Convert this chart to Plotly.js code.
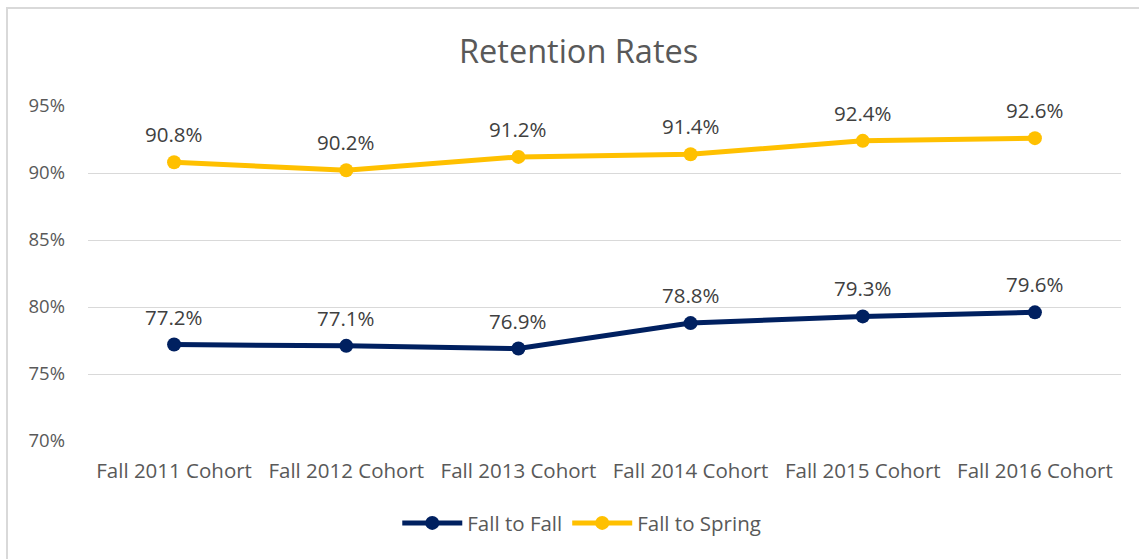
<!DOCTYPE html>
<html>
<head>
<meta charset="utf-8">
<script src="https://cdn.plot.ly/plotly-3.0.1.min.js"></script>
<style>
html,body{margin:0;padding:0;background:#fff;overflow:hidden;}
#frame{position:absolute;left:6px;top:7px;width:1200px;height:600px;border-left:2px solid #d9d9d9;border-top:2px solid #d9d9d9;box-sizing:border-box;pointer-events:none;z-index:5;}
#chart{position:absolute;left:0;top:0;width:1139px;height:559px;}
</style>
</head>
<body>
<div id="chart"></div>
<div id="frame"></div>
<script>
const categories = ["Fall 2011 Cohort","Fall 2012 Cohort","Fall 2013 Cohort","Fall 2014 Cohort","Fall 2015 Cohort","Fall 2016 Cohort"];
const fallToFall = [77.2, 77.1, 76.9, 78.8, 79.3, 79.6];
const fallToSpring = [90.8, 90.2, 91.2, 91.4, 92.4, 92.6];
const yTickVals = [70, 75, 80, 85, 90, 95];
const yTickText = ["70%","75%","80%","85%","90%","95%"];

const FONT = "Open Sans, Liberation Sans, sans-serif";
const navy = "#002060";
const gold = "#FFC000";

const traces = [
  {x: categories, y: fallToFall, name: "Fall to Fall", type: "scatter", mode: "lines+markers",
   line: {color: navy, width: 5}, marker: {color: navy, size: 14}},
  {x: categories, y: fallToSpring, name: "Fall to Spring", type: "scatter", mode: "lines+markers",
   line: {color: gold, width: 5}, marker: {color: gold, size: 14}}
];

const annotations = [];
[fallToFall, fallToSpring].forEach(series => {
  series.forEach((v, i) => {
    annotations.push({x: categories[i], y: v, text: v.toFixed(1) + "%", showarrow: false,
      yshift: 28, font: {family: FONT, size: 20.5, color: "#404040"}});
  });
});

const layout = {
  width: 1139, height: 559,
  margin: {l: 88, r: 18, t: 106, b: 118},
  paper_bgcolor: "#fff", plot_bgcolor: "#fff",
  title: {text: "Retention Rates", font: {family: FONT, size: 32.5, color: "#595959"}, x: 0.508, xanchor: "center", y: 0.907, yanchor: "middle"},
  xaxis: {type: "category", range: [-0.5, 5.5], tickfont: {family: FONT, size: 20.5, color: "#595959"}, showgrid: false, zeroline: false, showline: false, ticks: "", ticklabelstandoff: 15, fixedrange: true},
  yaxis: {range: [70, 95], tickvals: yTickVals, ticktext: yTickText, tickfont: {family: FONT, size: 18.5, color: "#595959"},
    gridcolor: "#d9d9d9", gridwidth: 1, zeroline: false, showline: false, ticks: "", ticklabelstandoff: 22},
  showlegend: true,
  legend: {orientation: "h", x: 0.478, xanchor: "center", y: -0.245, yanchor: "middle", font: {family: FONT, size: 20.5, color: "#595959"}, itemwidth: 60},
  annotations: annotations
};

Plotly.newPlot("chart", traces, layout, {displayModeBar: false, staticPlot: true});
</script>
</body>
</html>
